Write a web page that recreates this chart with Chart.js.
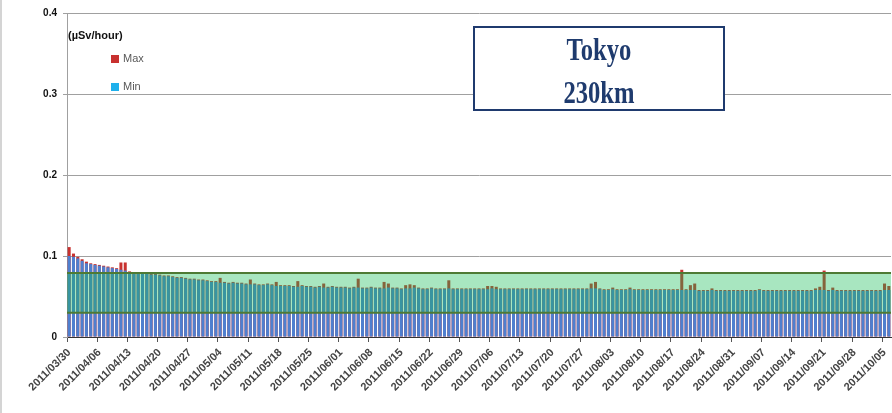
<!DOCTYPE html>
<html><head><meta charset="utf-8">
<script src="https://cdn.jsdelivr.net/npm/chart.js@4.4.0/dist/chart.umd.min.js"></script>
<style>html,body{margin:0;padding:0;background:#fff;overflow:hidden}#wrap{position:relative;width:892px;height:413px}</style>
</head><body><div id="wrap"><canvas id="c"></canvas></div>
<script>
const dates = [
"2011/03/30","2011/03/31",
"2011/04/01","2011/04/02","2011/04/03","2011/04/04","2011/04/05","2011/04/06","2011/04/07","2011/04/08","2011/04/09","2011/04/10",
"2011/04/11","2011/04/12","2011/04/13","2011/04/14","2011/04/15","2011/04/16","2011/04/17","2011/04/18","2011/04/19","2011/04/20",
"2011/04/21","2011/04/22","2011/04/23","2011/04/24","2011/04/25","2011/04/26","2011/04/27","2011/04/28","2011/04/29","2011/04/30",
"2011/05/01","2011/05/02","2011/05/03","2011/05/04","2011/05/05","2011/05/06","2011/05/07","2011/05/08","2011/05/09","2011/05/10",
"2011/05/11","2011/05/12","2011/05/13","2011/05/14","2011/05/15","2011/05/16","2011/05/17","2011/05/18","2011/05/19","2011/05/20",
"2011/05/21","2011/05/22","2011/05/23","2011/05/24","2011/05/25","2011/05/26","2011/05/27","2011/05/28","2011/05/29","2011/05/30","2011/05/31",
"2011/06/01","2011/06/02","2011/06/03","2011/06/04","2011/06/05","2011/06/06","2011/06/07","2011/06/08","2011/06/09","2011/06/10",
"2011/06/11","2011/06/12","2011/06/13","2011/06/14","2011/06/15","2011/06/16","2011/06/17","2011/06/18","2011/06/19","2011/06/20",
"2011/06/21","2011/06/22","2011/06/23","2011/06/24","2011/06/25","2011/06/26","2011/06/27","2011/06/28","2011/06/29","2011/06/30",
"2011/07/01","2011/07/02","2011/07/03","2011/07/04","2011/07/05","2011/07/06","2011/07/07","2011/07/08","2011/07/09","2011/07/10",
"2011/07/11","2011/07/12","2011/07/13","2011/07/14","2011/07/15","2011/07/16","2011/07/17","2011/07/18","2011/07/19","2011/07/20",
"2011/07/21","2011/07/22","2011/07/23","2011/07/24","2011/07/25","2011/07/26","2011/07/27","2011/07/28","2011/07/29","2011/07/30","2011/07/31",
"2011/08/01","2011/08/02","2011/08/03","2011/08/04","2011/08/05","2011/08/06","2011/08/07","2011/08/08","2011/08/09","2011/08/10",
"2011/08/11","2011/08/12","2011/08/13","2011/08/14","2011/08/15","2011/08/16","2011/08/17","2011/08/18","2011/08/19","2011/08/20",
"2011/08/21","2011/08/22","2011/08/23","2011/08/24","2011/08/25","2011/08/26","2011/08/27","2011/08/28","2011/08/29","2011/08/30","2011/08/31",
"2011/09/01","2011/09/02","2011/09/03","2011/09/04","2011/09/05","2011/09/06","2011/09/07","2011/09/08","2011/09/09","2011/09/10",
"2011/09/11","2011/09/12","2011/09/13","2011/09/14","2011/09/15","2011/09/16","2011/09/17","2011/09/18","2011/09/19","2011/09/20",
"2011/09/21","2011/09/22","2011/09/23","2011/09/24","2011/09/25","2011/09/26","2011/09/27","2011/09/28","2011/09/29","2011/09/30",
"2011/10/01","2011/10/02","2011/10/03","2011/10/04","2011/10/05","2011/10/06"
];
const minVals = [
0.100,0.099,0.097,0.094,0.091,0.090,0.089,
0.088,0.087,0.086,0.085,0.084,0.083,0.082,
0.080,0.079,0.079,0.078,0.078,0.077,0.077,
0.076,0.075,0.075,0.074,0.073,0.073,0.072,
0.071,0.071,0.070,0.070,0.069,0.068,0.068,
0.067,0.067,0.066,0.067,0.066,0.066,0.065,
0.065,0.065,0.064,0.064,0.065,0.064,0.063,
0.063,0.063,0.063,0.062,0.062,0.063,0.062,
0.062,0.061,0.062,0.061,0.061,0.062,0.061,
0.061,0.061,0.060,0.061,0.061,0.060,0.060,
0.061,0.060,0.060,0.060,0.061,0.060,0.060,
0.059,0.060,0.060,0.061,0.060,0.059,0.059,
0.060,0.059,0.059,0.059,0.060,0.059,0.059,
0.059,0.059,0.059,0.059,0.059,0.059,0.059,
0.060,0.059,0.059,0.059,0.059,0.059,0.059,
0.059,0.059,0.059,0.059,0.059,0.059,0.059,
0.059,0.059,0.059,0.059,0.059,0.059,0.059,
0.059,0.059,0.060,0.060,0.059,0.058,0.058,
0.059,0.058,0.058,0.058,0.059,0.058,0.058,
0.058,0.058,0.058,0.058,0.058,0.058,0.058,
0.058,0.058,0.058,0.058,0.058,0.058,0.057,
0.057,0.057,0.058,0.057,0.057,0.057,0.057,
0.057,0.057,0.057,0.057,0.057,0.057,0.058,
0.057,0.057,0.057,0.057,0.057,0.057,0.057,
0.057,0.057,0.057,0.057,0.057,0.058,0.058,
0.058,0.057,0.058,0.057,0.057,0.057,0.057,
0.057,0.057,0.057,0.057,0.057,0.057,0.057,
0.058,0.058
];
const maxVals = [
0.111,0.103,0.099,0.096,0.093,0.091,0.090,
0.089,0.088,0.087,0.086,0.085,0.092,0.092,
0.081,0.080,0.080,0.079,0.079,0.078,0.078,
0.077,0.076,0.076,0.075,0.074,0.074,0.073,
0.072,0.072,0.071,0.071,0.070,0.069,0.069,
0.073,0.068,0.067,0.068,0.067,0.067,0.066,
0.071,0.066,0.065,0.065,0.066,0.065,0.068,
0.064,0.064,0.064,0.063,0.069,0.064,0.063,
0.063,0.062,0.063,0.066,0.062,0.063,0.062,
0.062,0.062,0.061,0.062,0.072,0.061,0.061,
0.062,0.061,0.061,0.068,0.066,0.061,0.061,
0.060,0.064,0.065,0.064,0.061,0.060,0.060,
0.061,0.060,0.060,0.060,0.070,0.060,0.060,
0.060,0.060,0.060,0.060,0.060,0.060,0.063,
0.063,0.062,0.060,0.060,0.060,0.060,0.060,
0.060,0.060,0.060,0.060,0.060,0.060,0.060,
0.060,0.060,0.060,0.060,0.060,0.060,0.060,
0.060,0.060,0.066,0.068,0.060,0.059,0.059,
0.061,0.059,0.059,0.059,0.061,0.059,0.059,
0.059,0.059,0.059,0.059,0.059,0.059,0.059,
0.059,0.059,0.083,0.059,0.064,0.066,0.058,
0.058,0.058,0.060,0.058,0.058,0.058,0.058,
0.058,0.058,0.058,0.058,0.058,0.058,0.059,
0.058,0.058,0.058,0.058,0.058,0.058,0.058,
0.058,0.058,0.058,0.058,0.058,0.060,0.062,
0.082,0.058,0.061,0.058,0.058,0.058,0.058,
0.058,0.058,0.058,0.058,0.058,0.058,0.058,
0.066,0.063
];
const yTicks = [0, 0.1, 0.2, 0.3, 0.4];
const bandRange = [0.03, 0.079];
const unitLabel = "(µSv/hour)";
const seriesNames = ["Min", "Max"];
const titleLines = ["Tokyo", "230km"];

const colMin = '#4f7fcf', colMax = '#c8312f';

const overlayPlugin = {
  id: 'overlay',
  afterDatasetsDraw(chart) {
    const {ctx, chartArea: a, scales: {y}} = chart;
    const yT = y.getPixelForValue(bandRange[1]), yB = y.getPixelForValue(bandRange[0]);
    ctx.save();
    ctx.fillStyle = 'rgba(20,187,85,0.37)';
    ctx.fillRect(a.left, yT, a.right - a.left, yB - yT);
    ctx.strokeStyle = '#4e7a34';
    ctx.lineWidth = 2;
    ctx.beginPath();
    ctx.moveTo(a.left, yT); ctx.lineTo(a.right, yT);
    ctx.moveTo(a.left, yB); ctx.lineTo(a.right, yB);
    ctx.stroke();
    ctx.restore();
  },
  afterDraw(chart) {
    const ctx = chart.ctx;
    ctx.save();
    ctx.fillStyle = '#d4d4d4';
    ctx.fillRect(0, 0, 2, chart.height);
    ctx.fillStyle = '#111';
    ctx.font = 'bold 11px "Liberation Sans"';
    ctx.textBaseline = 'middle';
    ctx.textAlign = 'left';
    ctx.fillText(unitLabel, 68, 36);
    ctx.fillStyle = colMax; ctx.fillRect(111, 55, 8, 8);
    ctx.fillStyle = '#1fb0ec'; ctx.fillRect(111, 83, 8, 8);
    ctx.fillStyle = '#595959';
    ctx.font = '11px "Liberation Sans"';
    ctx.fillText(seriesNames[1], 123, 59);
    ctx.fillText(seriesNames[0], 123, 87);
    ctx.fillStyle = '#fff';
    ctx.fillRect(474, 27, 250, 83);
    ctx.strokeStyle = '#1f3a6e';
    ctx.lineWidth = 2;
    ctx.strokeRect(474, 27, 250, 83);
    ctx.fillStyle = '#1f3b6e';
    ctx.font = 'bold 32px "Liberation Serif"';
    ctx.textAlign = 'center';
    ctx.textBaseline = 'alphabetic';
    ctx.translate(599, 0);
    ctx.scale(0.77, 1);
    ctx.fillText(titleLines[0], 0, 60);
    ctx.fillText(titleLines[1], 0, 103);
    ctx.restore();
  }
};

Chart.defaults.font.family = '"Liberation Sans", Arial, sans-serif';
new Chart(document.getElementById('c'), {
  type: 'bar',
  data: {
    labels: dates,
    datasets: [
      {label: seriesNames[0], data: minVals, backgroundColor: colMin, grouped: false, barPercentage: 0.7, categoryPercentage: 1},
      {label: seriesNames[1], data: maxVals, backgroundColor: colMax, grouped: false, barPercentage: 0.7, categoryPercentage: 1}
    ]
  },
  options: {
    responsive: true, maintainAspectRatio: false, animation: false, devicePixelRatio: 1,
    layout: {padding: {top: 13, right: 1, left: 0, bottom: 0}},
    plugins: {legend: {display: false}, tooltip: {enabled: false}},
    scales: {
      x: {
        grid: {drawOnChartArea: false, drawTicks: true, tickLength: 5, offset: true,
               color: c => (c.index % 7 === 0) ? '#555' : 'rgba(0,0,0,0)'},
        border: {color: '#333', width: 1},
        ticks: {autoSkip: false, minRotation: 45, maxRotation: 45, padding: 4,
                font: {size: 11, weight: 'bold'}, color: '#444',
                callback: (v, i) => (i % 7 === 0) ? dates[i] : ''},
        afterFit: s => { s.height = 76; s.paddingLeft = 0; s.paddingRight = 0; }
      },
      y: {
        min: 0, max: 0.4,
        afterBuildTicks: s => { s.ticks = yTicks.map(v => ({value: v})); },
        ticks: {font: {size: 10, weight: 'bold'}, color: '#111', padding: 6,
                callback: v => v === 0 ? '0' : Number(v).toFixed(1)},
        grid: {color: '#a0a0a0', tickLength: 4},
        border: {color: '#a0a0a0'},
        afterFit: s => { s.width = 67; s.paddingTop = 0; s.paddingBottom = 0; }
      }
    }
  },
  plugins: [overlayPlugin]
});
</script>
</body></html>
